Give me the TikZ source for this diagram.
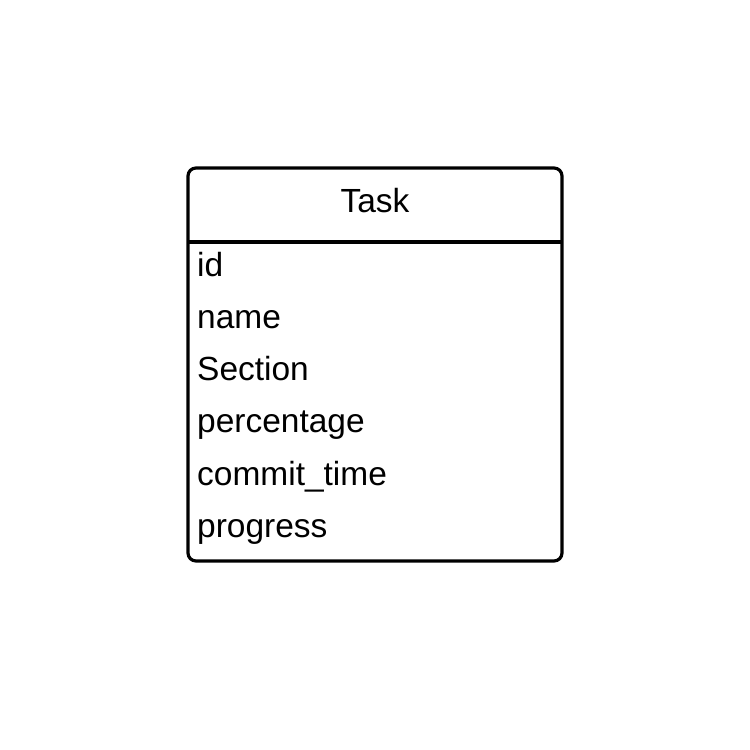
\documentclass[tikz,border=0pt]{standalone}
\usepackage{fontspec}
\setmainfont{Liberation Sans}
\begin{document}
\begin{tikzpicture}[x=1bp,y=-1bp,
  rowtext/.style={anchor=base west,inner sep=0pt,font=\fontsize{33.6}{38}\selectfont},
  titletext/.style={anchor=base,inner sep=0pt,font=\fontsize{33.6}{38}\selectfont},
  frame/.style={draw=black,line width=3.2bp,rounded corners=8bp}]
\useasboundingbox (0,0) rectangle (750,750);
\draw[frame] (188,168) rectangle (562,561);
\draw[line width=3.2bp] (188,242) coordinate (hl) -- (562,242) coordinate (hr);
\node[titletext] (title) at (375,212) {Task};
\node[rowtext] (r1) at (197,276) {id};
\node[rowtext] (r2) at (197,328) {name};
\node[rowtext] (r3) at (197,380) {Section};
\node[rowtext] (r4) at (197,432) {percentage};
\node[rowtext] (r5) at (197,485) {commit\_time};
\node[rowtext] (r6) at (197,537) {progress};
\end{tikzpicture}
\end{document}
